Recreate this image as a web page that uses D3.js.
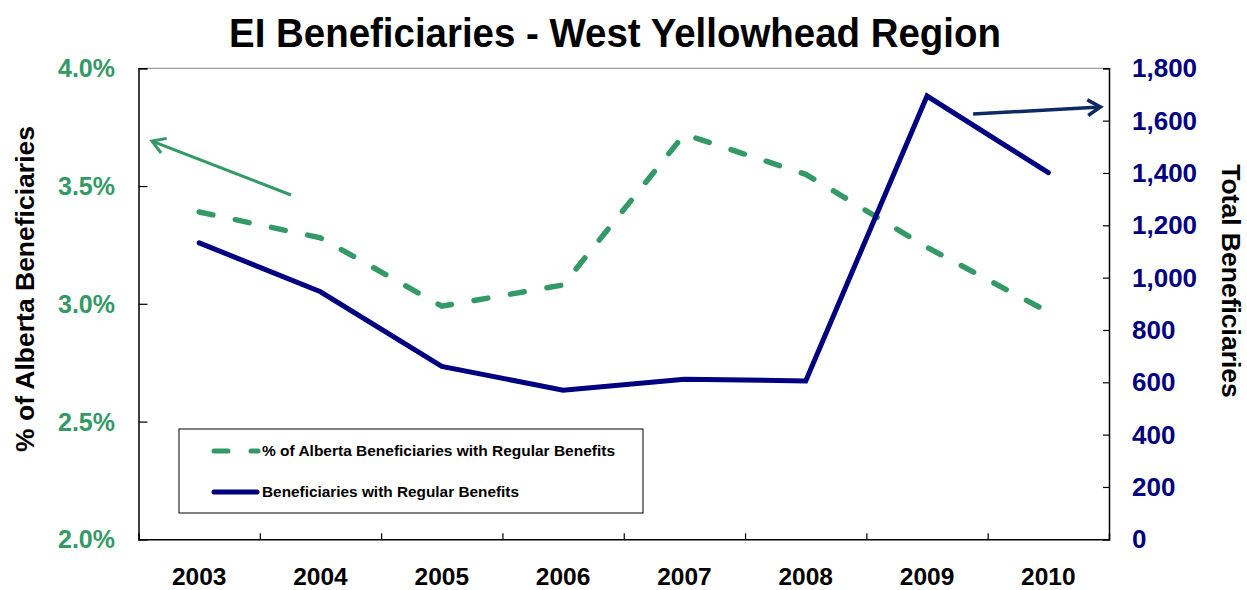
<!DOCTYPE html>
<html><head><meta charset="utf-8">
<script src="https://cdn.jsdelivr.net/npm/d3@7"></script>
<style>body{margin:0;background:#fff}svg{display:block}text{font-family:"Liberation Sans",Arial,sans-serif;font-weight:bold}</style>
</head><body><svg id="c" width="1247" height="590"></svg>
<script>
const years = ["2003","2004","2005","2006","2007","2008","2009","2010"];
const pctAlberta = [3.39, 3.28, 2.99, 3.08, 3.72, 3.55, 3.24, 2.965];
const beneficiaries = [1133, 946, 661, 570, 612, 605, 1694, 1401];
const leftTicks = [2.0, 2.5, 3.0, 3.5, 4.0];
const rightTicks = [0,200,400,600,800,1000,1200,1400,1600,1800];
const title = "EI Beneficiaries - West Yellowhead Region";
const legendLabels = ["% of Alberta Beneficiaries with Regular Benefits","Beneficiaries with Regular Benefits"];
// annotation arrows in data space: [categoryIndex, value]
const greenArrow = [[0.757, 3.462],[-0.389, 3.691]];
const blueArrow = [[6.38, 1625],[7.43, 1652]];

const GREEN = "#339966", NAVY = "#000080", ARROWBLUE = "#0d2a63";
const m = {l:138.5, r:1109, t:68.3, b:539.3};
const svg = d3.select("#c");
const x = d3.scaleBand().domain(years).range([m.l, m.r]);
const xi = d3.scaleLinear().domain([-0.5, years.length-0.5]).range([m.l, m.r]);
const yL = d3.scaleLinear().domain([2.0,4.0]).range([m.b, m.t]);
const yR = d3.scaleLinear().domain([0,1800]).range([m.b, m.t]);

svg.append("text").attr("x",615).attr("y",46.5).attr("text-anchor","middle")
  .attr("font-size",41).attr("fill","#000")
  .attr("textLength",772).attr("lengthAdjust","spacingAndGlyphs").text(title);

// top border
svg.append("line").attr("x1",m.l).attr("x2",m.r).attr("y1",m.t).attr("y2",m.t).attr("stroke","#888").attr("stroke-width",1);

// left axis
const gL = svg.append("g").attr("transform",`translate(${m.l},0)`)
  .call(d3.axisRight(yL).tickValues(leftTicks).tickSize(9).tickFormat(""));
gL.select(".domain").attr("stroke","#000").attr("stroke-width",1.5);
gL.selectAll(".tick line").attr("stroke","#000").attr("stroke-width",1.2);
svg.append("g").selectAll("text").data(leftTicks).join("text")
  .attr("x",115).attr("y",d=>yL(d)+9).attr("text-anchor","end").attr("font-size",25).attr("fill",GREEN)
  .text(d=>d3.format(".1f")(d)+"%");

// right axis
const gR = svg.append("g").attr("transform",`translate(${m.r},0)`)
  .call(d3.axisLeft(yR).tickValues(rightTicks).tickSize(6).tickFormat(""));
gR.select(".domain").attr("stroke","#000").attr("stroke-width",1.5);
gR.selectAll(".tick line").attr("stroke","#000").attr("stroke-width",1.2);
svg.append("g").selectAll("text").data(rightTicks).join("text")
  .attr("x",1132).attr("y",d=>yR(d)+9).attr("text-anchor","start").attr("font-size",26).attr("fill",NAVY)
  .text(d=>d3.format(",")(d));

// bottom axis
const gB = svg.append("g").attr("transform",`translate(0,${m.b})`)
  .call(d3.axisBottom(xi).tickValues(d3.range(0.5, years.length-1, 1)).tickSize(-6).tickFormat(""));
gB.select(".domain").attr("stroke","#000").attr("stroke-width",1.5);
gB.selectAll(".tick line").attr("stroke","#000").attr("stroke-width",1.2);
svg.append("g").selectAll("text").data(years).join("text")
  .attr("x",d=>x(d)+x.bandwidth()/2).attr("y",585).attr("text-anchor","middle").attr("font-size",24.5).attr("fill","#000").text(d=>d);

// axis titles
svg.append("text").attr("transform","translate(34,289) rotate(-90)").attr("text-anchor","middle")
  .attr("font-size",26.5).attr("fill","#000").text("% of Alberta Beneficiaries");
svg.append("text").attr("transform","translate(1222,281) rotate(90)").attr("text-anchor","middle")
  .attr("font-size",26.5).attr("fill","#000").text("Total Beneficiaries");

// lines
const cx = (d,i)=>x(years[i])+x.bandwidth()/2;
svg.append("path").datum(pctAlberta)
  .attr("d", d3.line().x(cx).y(d=>yL(d)))
  .attr("fill","none").attr("stroke",GREEN).attr("stroke-width",5.5)
  .attr("stroke-dasharray","14,23").attr("stroke-linecap","round");
svg.append("path").datum(beneficiaries)
  .attr("d", d3.line().x(cx).y(d=>yR(d)))
  .attr("fill","none").attr("stroke",NAVY).attr("stroke-width",5).attr("stroke-linejoin","miter").attr("stroke-linecap","round");

// arrows
function arrow(pts, yScale, color, w){
  const p0=[xi(pts[0][0]), yScale(pts[0][1])], p1=[xi(pts[1][0]), yScale(pts[1][1])];
  svg.append("line").attr("x1",p0[0]).attr("y1",p0[1]).attr("x2",p1[0]).attr("y2",p1[1])
    .attr("stroke",color).attr("stroke-width",w);
  const ang=Math.atan2(p1[1]-p0[1],p1[0]-p0[0]), L=15, a=0.55;
  const h1=[p1[0]-L*Math.cos(ang-a), p1[1]-L*Math.sin(ang-a)];
  const h2=[p1[0]-L*Math.cos(ang+a), p1[1]-L*Math.sin(ang+a)];
  svg.append("path").attr("d",`M${h1}L${p1}L${h2}`).attr("fill","none").attr("stroke",color).attr("stroke-width",w).attr("stroke-linejoin","miter");
}
arrow(greenArrow, yL, GREEN, 3);
arrow(blueArrow, yR, ARROWBLUE, 3.5);

// legend
const lg = svg.append("g");
lg.append("rect").attr("x",179).attr("y",429).attr("width",464).attr("height",84)
  .attr("fill","#fff").attr("stroke","#000").attr("stroke-width",1);
lg.append("line").attr("x1",214).attr("x2",258).attr("y1",451).attr("y2",451)
  .attr("stroke",GREEN).attr("stroke-width",5).attr("stroke-dasharray","14,23").attr("stroke-linecap","round");
lg.append("line").attr("x1",214).attr("x2",257).attr("y1",492).attr("y2",492)
  .attr("stroke",NAVY).attr("stroke-width",5).attr("stroke-linecap","round");
lg.append("text").attr("x",262).attr("y",456).attr("font-size",15).attr("fill","#000")
  .attr("textLength",353).attr("lengthAdjust","spacingAndGlyphs").text(legendLabels[0]);
lg.append("text").attr("x",262).attr("y",497).attr("font-size",15).attr("fill","#000")
  .attr("textLength",257).attr("lengthAdjust","spacingAndGlyphs").text(legendLabels[1]);
</script></body></html>
